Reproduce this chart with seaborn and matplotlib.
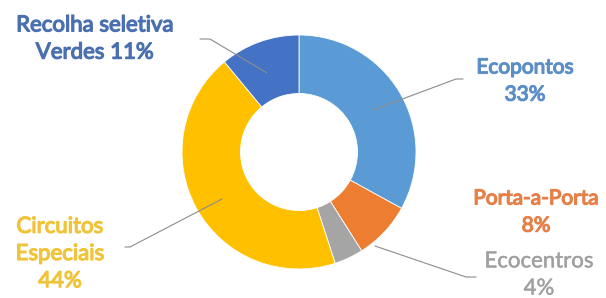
import matplotlib
matplotlib.use("Agg")
import matplotlib.pyplot as plt
import matplotlib.patheffects as pe
import seaborn as sns

# data (clockwise from 12 o'clock)
categories = ["Ecopontos", "Porta-a-Porta", "Ecocentros", "Circuitos\nEspeciais", "Recolha seletiva\nVerdes"]
shares = [33, 8, 4, 44, 11]
colors = ["#5b9bd5", "#ed7d31", "#a5a5a5", "#ffc000", "#4472c4"]
text_colors = ["#5b8fc6", "#e58048", "#a0a0a0", "#f0c43a", "#4a70b0"]

sns.set_theme(style="white")
plt.rcParams["font.family"] = ["Lato", "DejaVu Sans"]

fig = plt.figure(figsize=(6.06, 2.98), dpi=100)
ax = fig.add_axes([0, 0, 1, 1])
ax.axis("off")

H = 298
cx, cy, r = 299, H - 152, 117
ax.pie(shares, colors=colors, startangle=90, counterclock=False,
       center=(cx, cy), radius=r,
       wedgeprops=dict(width=r * 0.5, edgecolor="white", linewidth=0.6))
ax.set_xlim(0, 606)
ax.set_ylim(0, 298)
ax.set_aspect("equal")

# labels: (x, y in pixel coords from top)
label_pos = [(525, 81), (536, 212), (539, 275), (60, 254), (95, 39)]
label_text = [
    "Ecopontos\n33%",
    "Porta-a-Porta\n8%",
    "Ecocentros\n4%",
    "Circuitos\nEspeciais\n44%",
    "Recolha seletiva\nVerdes 11%",
]
sizes = [15, 15, 16, 16, 16]
strokes = [0.9, 0.9, 0.3, 0.9, 0.9]
for (x, y), t, c, s, fs in zip(label_pos, label_text, text_colors, strokes, sizes):
    ax.text(x, H - y, t, ha="center", va="center", color=c,
            fontsize=fs, linespacing=1.45,
            path_effects=[pe.withStroke(linewidth=s, foreground=c)])

# leader lines
leaders = [
    [(463, 79), (456, 79), (373, 110)],
    [(476, 277), (466, 277), (375, 246)],
    [(125, 247), (130, 247), (222, 199)],
    [(200, 39), (210, 39), (267, 73)],
]
for pts in leaders:
    xs = [p[0] for p in pts]
    ys = [H - p[1] for p in pts]
    ax.plot(xs, ys, color="#8c8c8c", lw=0.8)

fig.savefig("out.png", dpi=100)
plt.close(fig)
